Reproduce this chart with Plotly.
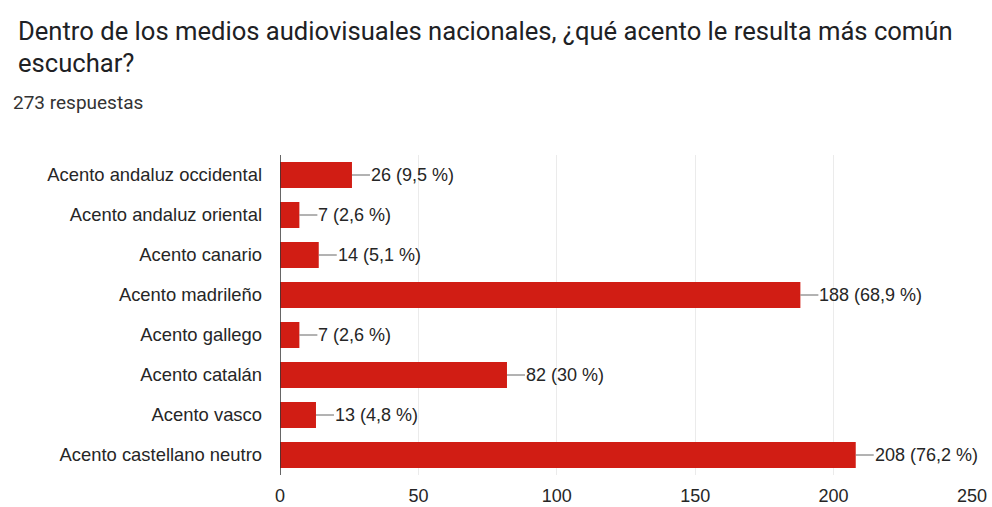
import plotly.graph_objects as go

categories = [
    "Acento andaluz occidental",
    "Acento andaluz oriental",
    "Acento canario",
    "Acento madrileño",
    "Acento gallego",
    "Acento catalán",
    "Acento vasco",
    "Acento castellano neutro",
]
counts = [26, 7, 14, 188, 7, 82, 13, 208]
percent_labels = ["9,5", "2,6", "5,1", "68,9", "2,6", "30", "4,8", "76,2"]
x_ticks = [0, 50, 100, 150, 200, 250]

title_line1 = "Dentro de los medios audiovisuales nacionales, ¿qué acento le resulta más común"
title_line2 = "escuchar?"
subtitle = "273 respuestas"

W, H = 992, 507
L, R, T, B = 280, 20, 155, 32
pw, ph = W - L - R, H - T - B

def px_to_paper_x(px):
    return (px - L) / pw

def px_to_paper_y(py):
    return (H - B - py) / ph

bar_color = "#d11d14"
text_color = "#262626"
font_family = "Liberation Sans, Arial, sans-serif"
title_font = "Roboto, Arial, sans-serif"

fig = go.Figure()
fig.add_trace(go.Bar(
    x=counts,
    y=categories,
    orientation="h",
    marker=dict(color=bar_color, line=dict(width=0)),
    width=0.65,
    hoverinfo="skip",
))

annotations = []
for cat, c, p in zip(categories, counts, percent_labels):
    annotations.append(dict(
        x=c, y=cat, xref="x", yref="y",
        text=f"{c} ({p} %)",
        showarrow=True, arrowhead=0, arrowwidth=1, arrowcolor="#666666",
        ax=18, ay=0, xanchor="left", yanchor="middle",
        font=dict(family=font_family, size=18, color=text_color),
        standoff=0, startstandoff=0, borderpad=0,
    ))

annotations.append(dict(
    x=px_to_paper_x(16), y=px_to_paper_y(31), xref="paper", yref="paper",
    text=title_line1, showarrow=False, xanchor="left", yanchor="middle",
    font=dict(family=title_font, size=25.6, color="#202124"),
))
annotations.append(dict(
    x=px_to_paper_x(16), y=px_to_paper_y(63), xref="paper", yref="paper",
    text=title_line2, showarrow=False, xanchor="left", yanchor="middle",
    font=dict(family=title_font, size=25.6, color="#202124"),
))
annotations.append(dict(
    x=px_to_paper_x(11), y=px_to_paper_y(102), xref="paper", yref="paper",
    text=subtitle, showarrow=False, xanchor="left", yanchor="middle",
    font=dict(family=title_font, size=19, color="#333333"),
))

fig.update_layout(
    width=W, height=H,
    margin=dict(l=L, r=R, t=T, b=B, pad=0, autoexpand=False),
    paper_bgcolor="white", plot_bgcolor="white",
    showlegend=False,
    annotations=annotations,
    xaxis=dict(
        range=[0, 250], tickvals=x_ticks, ticktext=[str(t) for t in x_ticks],
        showgrid=True, gridcolor="#ebebeb", gridwidth=1,
        zeroline=False, showline=False, ticks="", automargin=False,
        ticklabelstandoff=8,
        tickfont=dict(family=font_family, size=18, color=text_color),
    ),
    yaxis=dict(
        categoryorder="array", categoryarray=categories, autorange="reversed",
        showgrid=False, zeroline=False, showline=False, ticks="", automargin=False,
        ticklabelstandoff=17,
        tickfont=dict(family=font_family, size=18.4, color=text_color),
    ),
    shapes=[dict(type="line", xref="x", yref="paper", x0=0, x1=0, y0=0, y1=1,
                 line=dict(color="#333333", width=1.5))],
)

fig.write_html(
    "out.html",
    config={"displayModeBar": False},
    post_script="document.body.style.margin='0';document.body.style.overflow='hidden';",
)
